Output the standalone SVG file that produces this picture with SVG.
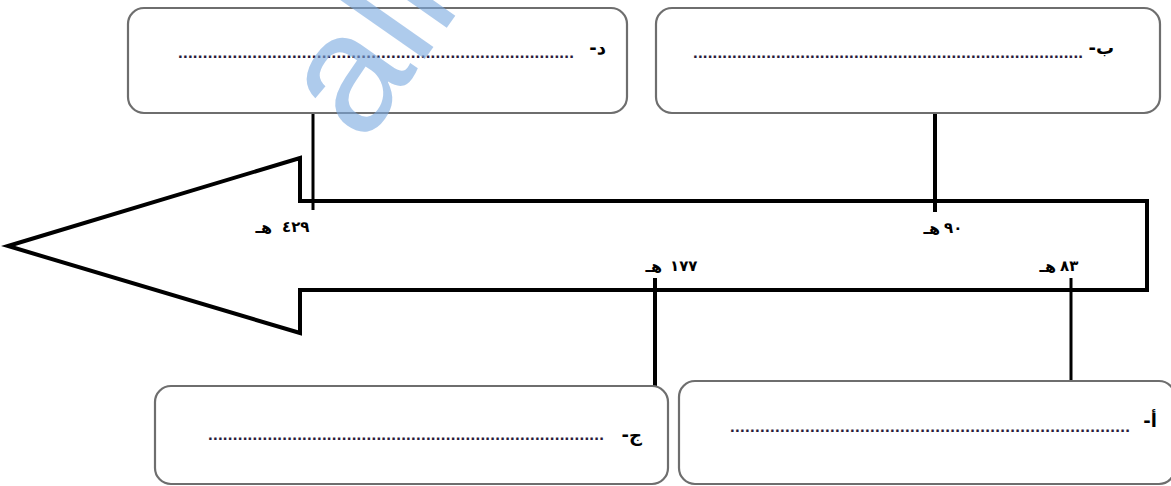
<svg xmlns="http://www.w3.org/2000/svg" width="1171" height="486" viewBox="0 0 1171 486">
<style>
.box{fill:#fff;stroke:#6e6e6e;stroke-width:2.2}
.lbl{font-family:"DejaVu Sans","Liberation Sans",sans-serif;font-size:18px;font-weight:bold;fill:#000}
.dots{font-family:"Liberation Sans",sans-serif;font-size:17px;font-weight:bold;fill:#2a1a3a}
.yr{font-family:"DejaVu Sans","Liberation Sans",sans-serif;font-size:16px;font-weight:bold;fill:#000}
.dg{font-family:"DejaVu Sans","Liberation Sans",sans-serif;font-size:15px;font-weight:bold;fill:#000;letter-spacing:6px}
.con{stroke:#000;fill:none}
.wm{font-family:"Liberation Sans",Arial,sans-serif;font-size:170px;fill:#7aa9e0;opacity:0.6}
</style>
<rect width="1171" height="486" fill="#fff"/>
<g id="arrow">
<path d="M8,246 L300,158 L300,201 L1147,201 L1147,290 L300,290 L300,333 Z" fill="#fff" stroke="#000" stroke-width="4" stroke-linejoin="miter"/>
</g>
<g id="connectors">
<line class="con" x1="313" y1="113" x2="313" y2="210" stroke-width="3"/>
<line class="con" x1="935" y1="113" x2="935" y2="212" stroke-width="4"/>
<line class="con" x1="655" y1="278" x2="655" y2="386" stroke-width="4"/>
<line class="con" x1="1071" y1="278" x2="1071" y2="381" stroke-width="3"/>
</g>
<g id="node-d">
<rect class="box" x="128" y="8" width="499" height="105" rx="16"/>
<text class="lbl" x="606" y="54" direction="rtl" text-anchor="start">د-</text>
<text class="dots" x="178" y="58" textLength="396" lengthAdjust="spacing">................................................................................</text>
</g>
<g id="node-b">
<rect class="box" x="656" y="8" width="504" height="105" rx="16"/>
<text class="lbl" x="1114" y="54" direction="rtl" text-anchor="start">ب-</text>
<text class="dots" x="693" y="58" textLength="390" lengthAdjust="spacing">................................................................................</text>
</g>
<g id="node-j">
<rect class="box" x="155" y="386" width="513" height="98" rx="16"/>
<text class="lbl" x="642" y="441" direction="rtl" text-anchor="start">ج-</text>
<text class="dots" x="208" y="440" textLength="396" lengthAdjust="spacing">................................................................................</text>
</g>
<g id="node-a">
<rect class="box" x="679" y="381" width="496" height="103" rx="16"/>
<text class="lbl" x="1157" y="427" direction="rtl" text-anchor="start">أ-</text>
<text class="dots" x="730" y="432" textLength="400" lengthAdjust="spacing">................................................................................</text>
</g>
<g id="dates">
<text class="yr" x="272" y="233" text-anchor="end">هـ</text>
<text class="dg" x="282" y="232">٤٢٩</text>
<text class="yr" x="940" y="234" text-anchor="end">هـ</text>
<text class="dg" x="944" y="233">٩٠</text>
<text class="yr" x="662" y="272" text-anchor="end">هـ</text>
<text class="dg" x="670" y="271">١٧٧</text>
<text class="yr" x="1056" y="272" text-anchor="end">هـ</text>
<text class="dg" x="1060" y="271">٨٣</text>
</g>
<text class="wm" transform="translate(364,146) rotate(-55)">alm</text>
</svg>
